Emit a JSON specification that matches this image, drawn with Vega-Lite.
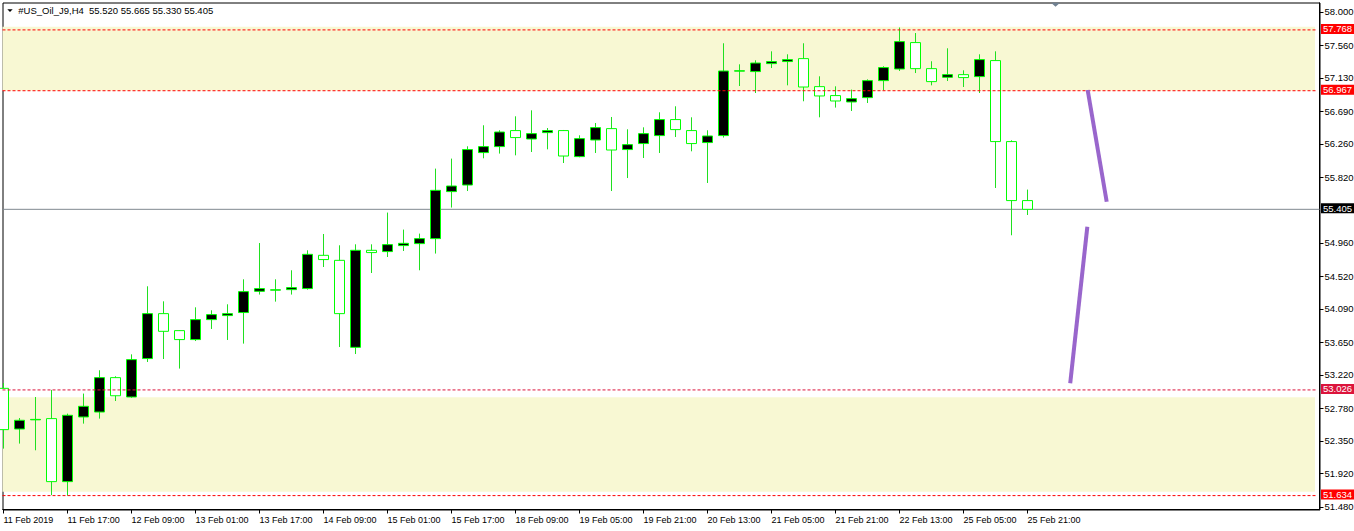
{
  "$schema": "https://vega.github.io/schema/vega-lite/v6.json",
  "width": 1317,
  "height": 507,
  "autosize": {"type": "none"},
  "padding": {"left": 2.5, "top": 2.5, "right": 34.5, "bottom": 21.5},
  "background": "#FFFFFF",
  "config": {
    "view": {"stroke": "#000000", "strokeWidth": 1},
    "font": "Liberation Sans",
    "axis": {"translate": 0, "labelOverlap": false, "labelFlush": false, "labelBound": false}
  },
  "datasets": {
    "candles": [
      {"i": 0, "o": 53.047, "h": 53.117, "l": 52.253, "c": 52.503},
      {"i": 1, "o": 52.511, "h": 52.656, "l": 52.319, "c": 52.626},
      {"i": 2, "o": 52.632, "h": 52.933, "l": 52.231, "c": 52.638},
      {"i": 3, "o": 52.648, "h": 53.026, "l": 51.640, "c": 51.818},
      {"i": 4, "o": 51.818, "h": 52.714, "l": 51.634, "c": 52.692},
      {"i": 5, "o": 52.670, "h": 52.978, "l": 52.582, "c": 52.810},
      {"i": 6, "o": 52.735, "h": 53.285, "l": 52.648, "c": 53.188},
      {"i": 7, "o": 53.188, "h": 53.206, "l": 52.880, "c": 52.949},
      {"i": 8, "o": 52.933, "h": 53.495, "l": 52.922, "c": 53.425},
      {"i": 9, "o": 53.439, "h": 54.391, "l": 53.394, "c": 54.031},
      {"i": 10, "o": 54.031, "h": 54.193, "l": 53.433, "c": 53.798},
      {"i": 11, "o": 53.807, "h": 53.810, "l": 53.307, "c": 53.689},
      {"i": 12, "o": 53.689, "h": 54.114, "l": 53.670, "c": 53.952},
      {"i": 13, "o": 53.952, "h": 54.075, "l": 53.829, "c": 54.018},
      {"i": 14, "o": 54.005, "h": 54.154, "l": 53.684, "c": 54.031},
      {"i": 15, "o": 54.045, "h": 54.483, "l": 53.636, "c": 54.321},
      {"i": 16, "o": 54.325, "h": 54.961, "l": 54.282, "c": 54.361},
      {"i": 17, "o": 54.340, "h": 54.483, "l": 54.189, "c": 54.345},
      {"i": 18, "o": 54.347, "h": 54.602, "l": 54.282, "c": 54.374},
      {"i": 19, "o": 54.361, "h": 54.865, "l": 54.347, "c": 54.812},
      {"i": 20, "o": 54.799, "h": 55.080, "l": 54.645, "c": 54.743},
      {"i": 21, "o": 54.733, "h": 54.931, "l": 53.591, "c": 54.031},
      {"i": 22, "o": 53.587, "h": 54.944, "l": 53.499, "c": 54.865},
      {"i": 23, "o": 54.865, "h": 54.944, "l": 54.566, "c": 54.835},
      {"i": 24, "o": 54.848, "h": 55.362, "l": 54.777, "c": 54.940},
      {"i": 25, "o": 54.927, "h": 55.138, "l": 54.856, "c": 54.957},
      {"i": 26, "o": 54.953, "h": 55.085, "l": 54.602, "c": 55.019},
      {"i": 27, "o": 55.019, "h": 55.941, "l": 54.822, "c": 55.655},
      {"i": 28, "o": 55.638, "h": 56.073, "l": 55.428, "c": 55.712},
      {"i": 29, "o": 55.725, "h": 56.235, "l": 55.646, "c": 56.192},
      {"i": 30, "o": 56.152, "h": 56.512, "l": 56.077, "c": 56.231},
      {"i": 31, "o": 56.231, "h": 56.446, "l": 56.139, "c": 56.423},
      {"i": 32, "o": 56.442, "h": 56.630, "l": 56.116, "c": 56.350},
      {"i": 33, "o": 56.331, "h": 56.709, "l": 56.160, "c": 56.402},
      {"i": 34, "o": 56.415, "h": 56.476, "l": 56.195, "c": 56.442},
      {"i": 35, "o": 56.442, "h": 56.450, "l": 56.015, "c": 56.107},
      {"i": 36, "o": 56.099, "h": 56.380, "l": 56.090, "c": 56.336},
      {"i": 37, "o": 56.318, "h": 56.542, "l": 56.147, "c": 56.481},
      {"i": 38, "o": 56.468, "h": 56.621, "l": 55.646, "c": 56.186},
      {"i": 39, "o": 56.192, "h": 56.459, "l": 55.817, "c": 56.257},
      {"i": 40, "o": 56.271, "h": 56.485, "l": 56.081, "c": 56.402},
      {"i": 41, "o": 56.376, "h": 56.683, "l": 56.147, "c": 56.587},
      {"i": 42, "o": 56.587, "h": 56.762, "l": 56.357, "c": 56.455},
      {"i": 43, "o": 56.442, "h": 56.617, "l": 56.169, "c": 56.271},
      {"i": 44, "o": 56.284, "h": 56.446, "l": 55.752, "c": 56.371},
      {"i": 45, "o": 56.376, "h": 57.592, "l": 56.350, "c": 57.227},
      {"i": 46, "o": 57.225, "h": 57.315, "l": 57.029, "c": 57.230},
      {"i": 47, "o": 57.219, "h": 57.368, "l": 56.937, "c": 57.332},
      {"i": 48, "o": 57.324, "h": 57.486, "l": 57.266, "c": 57.351},
      {"i": 49, "o": 57.351, "h": 57.447, "l": 57.038, "c": 57.377},
      {"i": 50, "o": 57.390, "h": 57.592, "l": 56.828, "c": 57.016},
      {"i": 51, "o": 57.021, "h": 57.157, "l": 56.617, "c": 56.898},
      {"i": 52, "o": 56.903, "h": 57.025, "l": 56.745, "c": 56.832},
      {"i": 53, "o": 56.819, "h": 56.982, "l": 56.700, "c": 56.863},
      {"i": 54, "o": 56.876, "h": 57.117, "l": 56.805, "c": 57.100},
      {"i": 55, "o": 57.100, "h": 57.289, "l": 56.973, "c": 57.272},
      {"i": 56, "o": 57.253, "h": 57.800, "l": 57.227, "c": 57.614},
      {"i": 57, "o": 57.601, "h": 57.727, "l": 57.200, "c": 57.258},
      {"i": 58, "o": 57.258, "h": 57.355, "l": 57.038, "c": 57.087},
      {"i": 59, "o": 57.144, "h": 57.526, "l": 57.095, "c": 57.179},
      {"i": 60, "o": 57.179, "h": 57.236, "l": 57.016, "c": 57.140},
      {"i": 61, "o": 57.153, "h": 57.447, "l": 56.937, "c": 57.377},
      {"i": 62, "o": 57.364, "h": 57.486, "l": 55.686, "c": 56.297},
      {"i": 63, "o": 56.297, "h": 56.314, "l": 55.063, "c": 55.520},
      {"i": 64, "o": 55.520, "h": 55.665, "l": 55.330, "c": 55.405}
    ],
    "zones": [
      {"top": 57.81, "bot": 56.967},
      {"top": 52.929, "bot": 51.686}
    ],
    "levels": [
      {"price": 57.768},
      {"price": 56.967},
      {"price": 53.026},
      {"price": 51.634}
    ],
    "bid": [{"price": 55.405}],
    "tags": [
      {"price": 57.768},
      {"price": 56.967},
      {"price": 55.405},
      {"price": 53.026},
      {"price": 51.634}
    ],
    "trend": [
      {"id": 1, "i": 67.76, "p": 56.977},
      {"id": 1, "i": 68.95, "p": 55.505},
      {"id": 2, "i": 67.74, "p": 55.176},
      {"id": 2, "i": 66.67, "p": 53.113}
    ]
  },
  "layer": [
    {
      "data": {"name": "zones"},
      "mark": {"type": "rect", "fill": "#F8F8D3"},
      "encoding": {
        "x": {
          "datum": -0.0625,
          "type": "quantitative",
          "scale": {"domain": [-0.0625, 82.25], "nice": false, "zero": false, "padding": 0},
          "axis": {
            "orient": "bottom",
            "values": [0, 4, 8, 12, 16, 20, 24, 28, 32, 36, 40, 44, 48, 52, 56, 60, 64],
            "tickCount": 100,
            "labelExpr": "['11 Feb 2019','11 Feb 17:00','12 Feb 09:00','13 Feb 01:00','13 Feb 17:00','14 Feb 09:00','15 Feb 01:00','15 Feb 17:00','18 Feb 09:00','19 Feb 05:00','19 Feb 21:00','20 Feb 13:00','21 Feb 05:00','21 Feb 21:00','22 Feb 13:00','25 Feb 05:00','25 Feb 21:00'][round(datum.value/4)]",
            "grid": false,
            "domainColor": "#000000",
            "tickColor": "#000000",
            "tickSize": 4,
            "labelAlign": "left",
            "labelBaseline": "top",
            "labelPadding": 2,
            "labelFont": "Liberation Sans",
            "labelFontSize": 9,
            "labelColor": "#000000",
            "labelFlush": false,
            "labelOverlap": false,
            "title": null
          }
        },
        "x2": {"datum": 81.97},
        "y": {
          "field": "top",
          "type": "quantitative",
          "scale": {"domain": [51.451, 58.1291], "nice": false, "zero": false, "padding": 0},
          "axis": {
            "orient": "right",
            "values": [58.0, 57.56, 57.13, 56.69, 56.26, 55.82, 54.96, 54.52, 54.09, 53.65, 53.22, 52.78, 52.35, 51.92, 51.48],
            "tickCount": 100,
            "format": ".3f",
            "grid": false,
            "domainColor": "#000000",
            "tickColor": "#000000",
            "tickSize": 4,
            "labelAlign": "left",
            "labelBaseline": "middle",
            "labelPadding": 1,
            "labelFont": "Liberation Sans",
            "labelFontSize": 9.5,
            "labelColor": "#000000",
            "labelFlush": false,
            "labelOverlap": false,
            "title": null
          }
        },
        "y2": {"field": "bot"}
      }
    },
    {
      "data": {"name": "bid"},
      "mark": {"type": "rule", "stroke": "#808890", "strokeWidth": 1},
      "encoding": {
        "x": {"datum": -0.0625, "type": "quantitative"},
        "x2": {"datum": 82.25},
        "y": {"field": "price", "type": "quantitative"}
      }
    },
    {
      "data": {"name": "candles"},
      "mark": {"type": "rule", "stroke": "#20E020", "strokeWidth": 1},
      "encoding": {
        "x": {"field": "i", "type": "quantitative"},
        "y": {"field": "l", "type": "quantitative"},
        "y2": {"field": "h"}
      }
    },
    {
      "data": {"name": "candles"},
      "mark": {"type": "bar", "size": 10, "stroke": "#00FF00", "strokeWidth": 1},
      "encoding": {
        "x": {"field": "i", "type": "quantitative"},
        "y": {"field": "o", "type": "quantitative"},
        "y2": {"field": "c"},
        "fill": {
          "condition": {"test": "datum.c > datum.o", "value": "#000000"},
          "value": "#FFFFFF"
        }
      }
    },
    {
      "data": {"name": "levels"},
      "mark": {"type": "rule", "strokeDash": [3, 2], "strokeWidth": 1},
      "encoding": {
        "x": {"datum": -0.0625, "type": "quantitative"},
        "x2": {"datum": 82.07},
        "y": {"field": "price", "type": "quantitative"},
        "stroke": {
          "condition": {"test": "datum.price == 53.026", "value": "#DC143C"},
          "value": "#FF0000"
        }
      }
    },
    {
      "data": {"name": "trend"},
      "mark": {"type": "line", "stroke": "#9966CC", "strokeWidth": 4},
      "encoding": {
        "x": {"field": "i", "type": "quantitative"},
        "y": {"field": "p", "type": "quantitative"},
        "detail": {"field": "id"}
      }
    },
    {
      "data": {"name": "tags"},
      "mark": {"type": "point", "filled": true, "opacity": 1, "shape": "M-3.3,-1H3.3V1H-3.3Z", "size": 100, "strokeWidth": 0, "yOffset": -1},
      "encoding": {
        "x": {"datum": 83.375, "type": "quantitative"},
        "y": {"field": "price", "type": "quantitative"},
        "fill": {
          "condition": [
            {"test": "datum.price == 55.405", "value": "#000000"},
            {"test": "datum.price == 53.026", "value": "#DC143C"}
          ],
          "value": "#FF0000"
        }
      }
    },
    {
      "data": {"name": "tags"},
      "mark": {"type": "text", "align": "center", "baseline": "middle", "font": "Liberation Sans", "fontSize": 9.5, "fill": "#FFFFFF", "yOffset": -0.5},
      "encoding": {
        "x": {"datum": 83.375, "type": "quantitative"},
        "y": {"field": "price", "type": "quantitative"},
        "text": {"field": "price", "type": "quantitative", "format": ".3f"}
      }
    },
    {
      "data": {"values": [{"label": "#US_Oil_J9,H4\u00a0\u00a055.520 55.665 55.330 55.405"}]},
      "mark": {"type": "text", "align": "left", "baseline": "middle", "font": "Liberation Sans", "fontSize": 9.5, "fill": "#000000"},
      "encoding": {
        "x": {"datum": 0.925, "type": "quantitative"},
        "y": {"datum": 58.0171, "type": "quantitative"},
        "text": {"field": "label"}
      }
    },
    {
      "data": {"values": [{"m": "menu"}]},
      "mark": {"type": "point", "filled": true, "opacity": 1, "shape": "M-1,-0.5H1L0,0.5Z", "size": 29, "fill": "#000000", "strokeWidth": 0},
      "encoding": {
        "x": {"datum": 0.406, "type": "quantitative"},
        "y": {"datum": 58.0211, "type": "quantitative"}
      }
    },
    {
      "data": {"values": [{"m": "shift"}]},
      "mark": {"type": "point", "filled": true, "opacity": 1, "shape": "M-1,-0.45H1L0,0.45Z", "size": 81, "fill": "#708090", "strokeWidth": 0},
      "encoding": {
        "x": {"datum": 65.75, "type": "quantitative"},
        "y": {"datum": 58.1001, "type": "quantitative"}
      }
    }
  ]
}
